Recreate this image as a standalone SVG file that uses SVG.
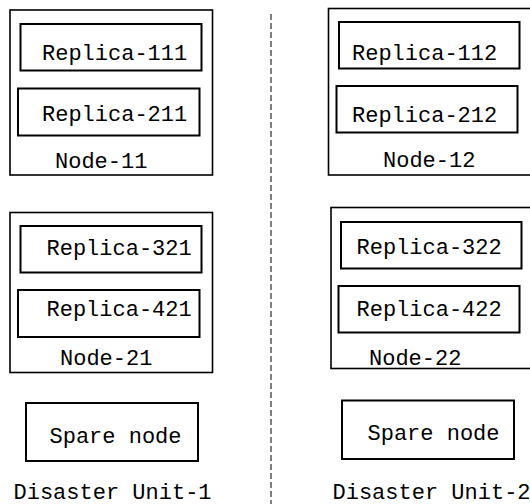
<svg xmlns="http://www.w3.org/2000/svg" width="530" height="504" viewBox="0 0 530 504">
<style>
.outer{fill:none;stroke:#000;stroke-width:1.6}
.inner{fill:none;stroke:#000;stroke-width:2}
.t{font-family:"Liberation Mono","Courier New",monospace;font-size:22px;fill:#000}
.sep{stroke:#000;stroke-width:1;stroke-dasharray:6,3;fill:none}
</style>
<rect width="530" height="504" fill="#fff"/>
<g id="connectors">
<line class="sep" x1="271" y1="14" x2="271" y2="504"/>
</g>
<g id="node-11">
<rect class="outer" x="10" y="10" width="202.5" height="165"/>
<text class="t" x="55" y="168">Node-11</text>
</g>
<g id="replica-111">
<rect class="inner" x="20.5" y="24" width="181" height="46.5"/>
<text class="t" x="42" y="60">Replica-111</text>
</g>
<g id="replica-211">
<rect class="inner" x="18" y="88.5" width="181.5" height="47"/>
<text class="t" x="42" y="121">Replica-211</text>
</g>
<g id="node-12">
<rect class="outer" x="328.5" y="8.5" width="210" height="166.5"/>
<text class="t" x="383" y="167">Node-12</text>
</g>
<g id="replica-112">
<rect class="inner" x="339" y="22" width="180.5" height="46.5"/>
<text class="t" x="352" y="59.5">Replica-112</text>
</g>
<g id="replica-212">
<rect class="inner" x="336.5" y="86" width="181" height="46.5"/>
<text class="t" x="352" y="122">Replica-212</text>
</g>
<g id="node-21">
<rect class="outer" x="10" y="212.5" width="202.5" height="160"/>
<text class="t" x="60" y="365">Node-21</text>
</g>
<g id="replica-321">
<rect class="inner" x="20.5" y="226" width="181" height="46.5"/>
<text class="t" x="46.5" y="254.5">Replica-321</text>
</g>
<g id="replica-421">
<rect class="inner" x="18" y="290" width="181.5" height="47"/>
<text class="t" x="46.5" y="316">Replica-421</text>
</g>
<g id="node-22">
<rect class="outer" x="331" y="207.5" width="210" height="161"/>
<text class="t" x="369" y="365">Node-22</text>
</g>
<g id="replica-322">
<rect class="inner" x="341" y="222" width="180.5" height="46.5"/>
<text class="t" x="356.5" y="254">Replica-322</text>
</g>
<g id="replica-422">
<rect class="inner" x="338.5" y="286" width="181" height="46.5"/>
<text class="t" x="356.5" y="316">Replica-422</text>
</g>
<g id="spare-1">
<rect class="inner" x="26" y="403" width="172" height="58"/>
<text class="t" x="49.5" y="442.5">Spare node</text>
</g>
<g id="spare-2">
<rect class="inner" x="342" y="400.5" width="172" height="58.5"/>
<text class="t" x="367.5" y="439.5">Spare node</text>
</g>
<g id="unit-1">
<text class="t" x="13.5" y="498.5">Disaster Unit-1</text>
</g>
<g id="unit-2">
<text class="t" x="332.5" y="498.5">Disaster Unit-2</text>
</g>
</svg>
